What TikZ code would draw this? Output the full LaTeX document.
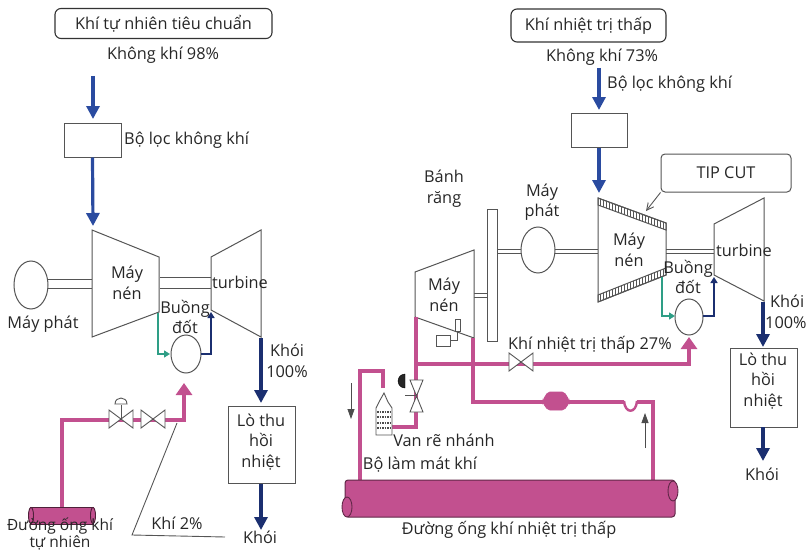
\documentclass[tikz,border=0pt]{standalone}
\usepackage{fontspec}
\setmainfont{Open Sans}
\usetikzlibrary{arrows.meta,patterns}
\definecolor{pipe}{HTML}{C2508F}
\definecolor{navy}{HTML}{2A4BA0}
\definecolor{dnavy}{HTML}{1B2F70}
\definecolor{teal2}{HTML}{2E9E86}
\definecolor{line}{HTML}{555555}
\tikzset{x=1pt,y=-1pt,
 txt/.style={font=\fontsize{16.3}{20.5}\selectfont,text=black!85,inner sep=0pt,align=center},
 mach/.style={draw=line,line width=1pt,fill=white},
 flow/.style={line width=3.2pt,draw=navy,-{Triangle[length=13pt,width=13pt]}},
 flowd/.style={line width=3.2pt,draw=dnavy,-{Triangle[length=13pt,width=13pt]}},
 flows/.style={line width=2.2pt,draw=dnavy,-{Triangle[length=6pt,width=7pt]}},
 air/.style={line width=1.4pt,draw=teal2,-{Triangle[length=6pt,width=7pt]}},
 pipeline/.style={line width=3.5pt,draw=pipe},
 pipearrow/.style={line width=3.5pt,draw=pipe,-{Triangle[length=12pt,width=16pt]}},
 thinl/.style={draw=line,line width=0.9pt},
 valveshape/.style={draw=line,line width=0.9pt,fill=white},
 box/.style={draw=line,line width=1pt,fill=white,inner sep=0pt},
 title/.style={draw=black!80,line width=1.1pt,rounded corners=6pt,inner sep=0pt,font=\fontsize{16.3}{20}\selectfont,text=black!85},
 arr/.style={line width=0.8pt,draw=black!70,-{Triangle[length=10pt,width=7pt]}}
}
\newcommand{\gasvalve}[2]{\draw[valveshape] (#1-12,#2-9)--(#1+12,#2+9)--(#1+12,#2-9)--(#1-12,#2+9)--cycle;}
\begin{document}
\begin{tikzpicture}
\useasboundingbox (0,0) rectangle (806,551);
% LEFT
\node[title,minimum width=217pt,minimum height=30pt] (t1) at (163.5,23.5) {Khí tự nhiên tiêu chuẩn};
\node[txt] (a1) at (163,55) {Không khí 98\%};
\coordinate (a1s) at (93,76);
\node[box,minimum width=57pt,minimum height=34pt] (f1) at (92.5,140) {};
\draw[flow] (a1s)--(93,119);
\node[txt,anchor=west] (f1l) at (124,140) {Bộ lọc không khí};
\draw[flow] (f1.south)--(93,226);
\draw[thinl] (47,279)--(93,279) (47,288)--(93,288);
\draw[thinl] (160,277)--(212,277) (160,288)--(212,288);
\draw[mach] (31,285) ellipse (17 and 24);
\draw[mach] (92,230)--(159,257)--(159,312)--(92,337)--cycle;
\draw[mach] (211,257)--(261,230)--(261,337)--(211,310)--cycle;
\node[txt] at (127,283) {Máy\\nén};
\node[txt,anchor=west] at (212,282) {turbine};
\node[txt] at (43,324) {Máy phát};
\draw[mach] (186,354) ellipse (15 and 19);
\node[txt] at (185,317) {Buồng\\đốt};
\draw[air] (158,313)--(158,354)--(170,354);
\draw[flows] (201,354)--(211,354)--(211,312);
\draw[flowd] (261,338)--(261,403);
\node[txt] at (287,361) {Khói\\100\%};
\node[box,minimum width=67pt,minimum height=77pt] (h1) at (261.5,444.5) {};
\node[txt] at (261,442) {Lò thu\\hồi\\nhiệt};
\draw[flowd] (261,484)--(261,530);
\node[txt] at (260,537) {Khói};
\draw[pipeline] (62,508)--(62,420)--(176,420);
\draw[pipearrow] (176,420)--(184,420)--(184,383);
\draw[fill=pipe,draw=black!60!pipe,line width=.9pt] (30,507) rectangle (93,524);
\draw[fill=pipe,draw=black!60!pipe,line width=.9pt] (31,515.5) ellipse (2.5 and 8) (93,515.5) ellipse (2.5 and 8);
\gasvalve{121}{419}
\gasvalve{153}{419}
\draw[thinl] (121,419)--(121,405);
\draw[thinl,fill=white] (115,404) -- (127,404) .. controls (127,396) and (115,396) .. (115,404) -- cycle;
\draw[thinl] (177,423)--(132,535)--(225,537);
\node[txt] at (177,523) {Khí 2\%};
\node[txt,font=\fontsize{15.5}{13.5}\selectfont] at (60,534) {Đường ống khí\\tự nhiên};
% RIGHT
\node[title,minimum width=155pt,minimum height=33pt] (t2) at (588.5,25.5) {Khí nhiệt trị thấp};
\node[txt] (a2) at (602,57) {Không khí 73\%};
\coordinate (a2s) at (599,68);
\node[box,minimum width=56pt,minimum height=34pt] (f2) at (599,130) {};
\draw[flow] (a2s)--(599,110);
\node[txt,anchor=west] at (607,84) {Bộ lọc không khí};
\draw[flow] (f2.south)--(599,193);
\node[txt] at (444,188.5) {Bánh\\răng};
\node[txt] at (542,202) {Máy\\phát};
\draw[thinl] (497,249)--(522,249) (497,253)--(522,253);
\draw[thinl] (554,249)--(600,249) (554,253)--(600,253);
\draw[mach] (538,250) ellipse (17 and 23);
\draw[mach] (487,209) rectangle (497,341);
\draw[thinl] (474,293)--(487,293) (474,297)--(487,297);
\draw[mach] (415,272)--(474,250)--(474,338)--(415,317)--cycle;
\node[txt] at (444,295) {Máy\\nén};
\draw[thinl,fill=white] (436,335) rectangle (450,346);
\draw[thinl] (450,340)--(457,340)--(457,331);
\draw[thinl,fill=white] (455,319) rectangle (460,331);
\draw[mach] (598,198)--(666,223)--(666,275)--(598,302)--cycle;
\draw[mach,pattern=vertical lines,pattern color=line] (598,198)--(666,223)--(666,230)--(598,205)--cycle;
\draw[mach,pattern=vertical lines,pattern color=line] (598,295)--(666,268)--(666,275)--(598,302)--cycle;
\node[txt] at (629,250) {Máy\\nén};
\draw[thinl] (666,249)--(715,249) (666,253)--(715,253);
\draw[mach] (714,224)--(764,198)--(764,301)--(714,275)--cycle;
\node[txt,anchor=west] at (716,250) {turbine};
\draw[mach] (689,317) ellipse (14 and 18);
\node[txt] at (688,277) {Buồng\\đốt};
\draw[air] (662,277)--(662,316)--(675,316);
\draw[flows] (703,316)--(714,316)--(714,277);
\draw[flowd] (763,302)--(763,347);
\node[txt,align=left,anchor=west] at (765,312) {\hspace*{5pt}Khói\\100\%};
\node[box,minimum width=67pt,minimum height=79pt] at (763.5,387.5) {};
\node[txt] at (763,381) {Lò thu\\hồi\\nhiệt};
\draw[flowd] (763,427)--(763,461);
\node[txt] at (762,474) {Khói};
\node[draw=line,line width=1pt,rounded corners=4pt,minimum width=130pt,minimum height=38pt,inner sep=0pt,font=\fontsize{16.3}{20}\selectfont,text=black!85] (tc) at (726,173) {TIP CUT};
\draw[thinl,-{Straight Barb[length=7pt,width=7pt]}] (tc.south west)--(646,211);
\draw[pipeline] (416,317)--(416,427)--(392,427);
\draw[pipeline] (416,364)--(680,364);
\draw[pipearrow] (680,364)--(689,364)--(689,337);
\draw[pipeline] (473,338)--(473,402)--(653,402)--(653,480);
\draw[pipeline] (383,388)--(383,371)--(360,371)--(360,480);
\draw[pipe,fill=pipe,line width=.8pt,rounded corners=2pt] (543,400)--(548,392)--(564,392)--(569,400)--(569,403)--(564,410)--(548,410)--(543,403)--cycle;
\draw[fill=white,draw=white] (624,399) rectangle (636,405);
\draw[line width=2.4pt,draw=pipe] (624,401) .. controls (625,414) and (636,414) .. (637,401);
\gasvalve{521}{362}
\draw[valveshape] (410,380)--(423,380)--(410,412)--(423,412)--cycle;
\draw[fill=black!85] (405,388) arc (90:270:7) -- cycle;
\draw[thinl] (405,395)--(416,395);
\draw[thinl,fill=white] (379,402)--(384,393)--(388,402)--(392,408)--(392,435)--(376,435)--(376,408)--cycle;
\foreach \yy in {412,417,423,428}{\draw[line width=1.6pt,draw=black!70,dash pattern=on 1.5pt off 1pt] (377,\yy)--(391,\yy);}
\draw[arr] (351,383)--(351,419);
\draw[arr] (645,448)--(645,413);
\node[txt] at (444,440) {Van rẽ nhánh};
\node[txt] at (420,465) {Bộ làm mát khí};
\node[txt,anchor=west] at (508,345) {Khí nhiệt trị thấp 27\%};
\draw[fill=pipe,draw=black!50!pipe,line width=1pt,rounded corners=3pt] (345,480) rectangle (675,517);
\draw[fill=pipe,draw=black!50!pipe,line width=.9pt] (347,507) ellipse (5 and 10) (673,491) ellipse (5 and 10);
\node[txt] at (509,530) {Đường ống khí nhiệt trị thấp};
\end{tikzpicture}
\end{document}
